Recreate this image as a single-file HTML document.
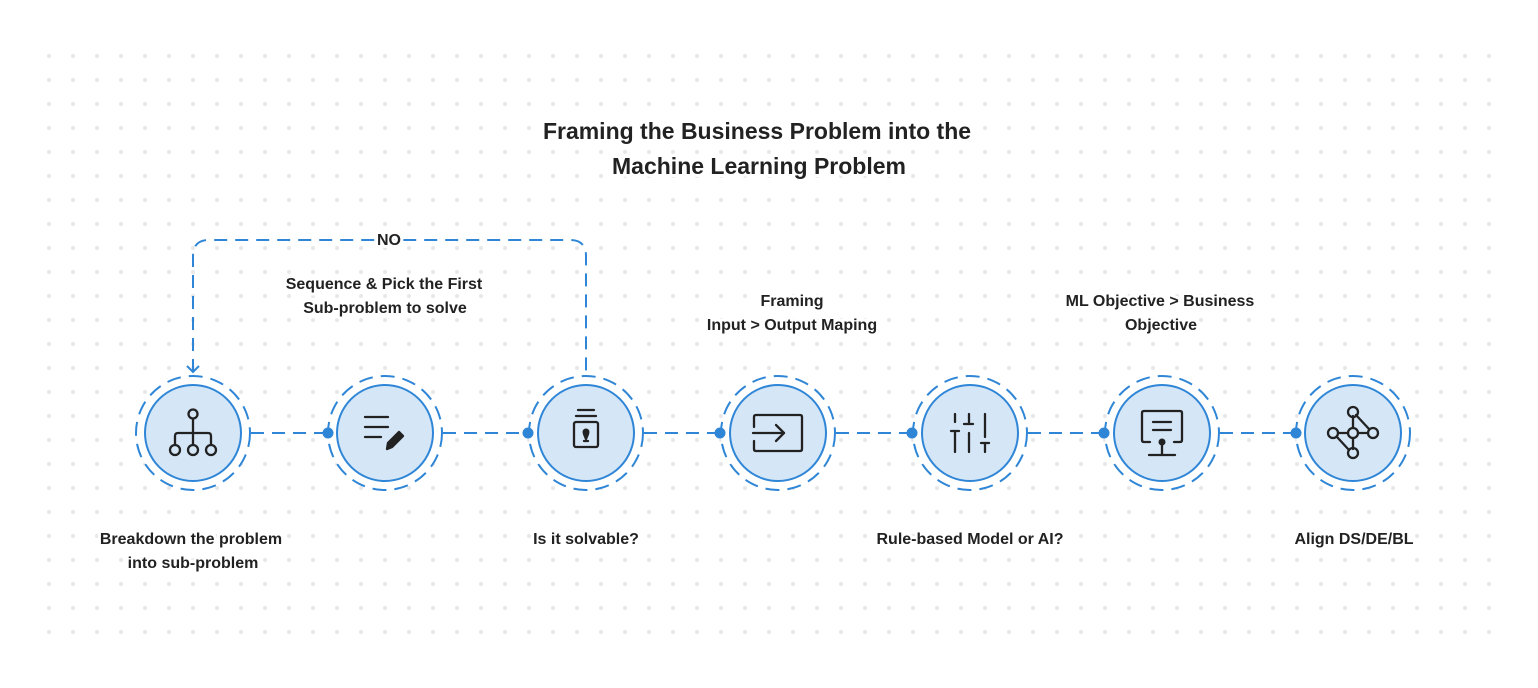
<!DOCTYPE html>
<html><head><meta charset="utf-8"><style>
html,body{margin:0;padding:0;background:#fff;}
svg{display:block;}
text{font-family:"Liberation Sans",sans-serif;font-weight:bold;fill:#222;text-anchor:middle;paint-order:stroke;stroke:#fff;stroke-width:6px;stroke-linejoin:round;}
</style></head><body>
<svg width="1538" height="688" viewBox="0 0 1538 688" xmlns="http://www.w3.org/2000/svg">
<defs>
<pattern id="dots" x="37" y="44" width="24" height="24" patternUnits="userSpaceOnUse">
<circle cx="12" cy="12" r="2" fill="#e8e8e8"/>
</pattern>
</defs>
<rect x="37" y="44" width="1464" height="600" fill="url(#dots)"/>

<text x="757" y="139" font-size="23">Framing the Business Problem into the</text>
<text x="759" y="174" font-size="23">Machine Learning Problem</text>

<g fill="none" stroke="#2f86d6" stroke-width="2">
<path d="M193 372 V256 Q193 240 209 240 H570 Q586 240 586 256 V376" stroke-dasharray="13 8"/>
<path d="M187 366 L193 372 L199 366"/>
<g stroke-dasharray="13 8">
<line x1="251" y1="433" x2="328" y2="433"/>
<line x1="443" y1="433" x2="528" y2="433"/>
<line x1="644" y1="433" x2="720" y2="433"/>
<line x1="836" y1="433" x2="912" y2="433"/>
<line x1="1028" y1="433" x2="1104" y2="433"/>
<line x1="1220" y1="433" x2="1296" y2="433"/>
</g>
</g>

<g id="nodes">
<g transform="translate(193,433)"><circle r="57" fill="#fff" stroke="#2f86d6" stroke-width="2" stroke-dasharray="14 8"/><circle r="48" fill="#d5e6f7" stroke="#2f86d6" stroke-width="2"/></g>
<g transform="translate(385,433)"><circle r="57" fill="#fff" stroke="#2f86d6" stroke-width="2" stroke-dasharray="14 8"/><circle r="48" fill="#d5e6f7" stroke="#2f86d6" stroke-width="2"/></g>
<g transform="translate(586,433)"><circle r="57" fill="#fff" stroke="#2f86d6" stroke-width="2" stroke-dasharray="14 8"/><circle r="48" fill="#d5e6f7" stroke="#2f86d6" stroke-width="2"/></g>
<g transform="translate(778,433)"><circle r="57" fill="#fff" stroke="#2f86d6" stroke-width="2" stroke-dasharray="14 8"/><circle r="48" fill="#d5e6f7" stroke="#2f86d6" stroke-width="2"/></g>
<g transform="translate(970,433)"><circle r="57" fill="#fff" stroke="#2f86d6" stroke-width="2" stroke-dasharray="14 8"/><circle r="48" fill="#d5e6f7" stroke="#2f86d6" stroke-width="2"/></g>
<g transform="translate(1162,433)"><circle r="57" fill="#fff" stroke="#2f86d6" stroke-width="2" stroke-dasharray="14 8"/><circle r="48" fill="#d5e6f7" stroke="#2f86d6" stroke-width="2"/></g>
<g transform="translate(1353,433)"><circle r="57" fill="#fff" stroke="#2f86d6" stroke-width="2" stroke-dasharray="14 8"/><circle r="48" fill="#d5e6f7" stroke="#2f86d6" stroke-width="2"/></g>
</g>
<g fill="#2f86d6">
<circle cx="328" cy="433" r="5.5"/><circle cx="528" cy="433" r="5.5"/><circle cx="720" cy="433" r="5.5"/>
<circle cx="912" cy="433" r="5.5"/><circle cx="1104" cy="433" r="5.5"/><circle cx="1296" cy="433" r="5.5"/>
</g>

<g fill="none" stroke="#222" stroke-width="2.3" stroke-linecap="round" stroke-linejoin="round">
<g transform="translate(193,433)">
<circle cx="0" cy="-19" r="4.5"/><line x1="0" y1="-14" x2="0" y2="12"/>
<path d="M-18 12 V3 Q-18 0 -15 0 H15 Q18 0 18 3 V12"/>
<circle cx="-18" cy="17" r="5"/><circle cx="0" cy="17" r="5"/><circle cx="18" cy="17" r="5"/>
</g>
<g transform="translate(385,433)">
<line x1="-20" y1="-16" x2="3" y2="-16"/><line x1="-20" y1="-6" x2="3" y2="-6"/><line x1="-20" y1="4" x2="-4" y2="4"/>
<path d="M2 16 L3 10 L14 -1 L18 3 L7 14 Z" fill="#222"/>
</g>
<g transform="translate(586,433)">
<line x1="-8" y1="-23" x2="8" y2="-23"/><line x1="-10" y1="-17" x2="10" y2="-17"/>
<rect x="-12" y="-11" width="24" height="25" rx="2"/>
<circle cx="0" cy="-1" r="3.5" fill="#222" stroke="none"/><path d="M-2 1 L0 6 L2 1Z" fill="#222"/><line x1="-2" y1="8" x2="2" y2="8"/>
</g>
<g transform="translate(778,433)">
<path d="M-24 -6 V-16 Q-24 -18 -22 -18 H22 Q24 -18 24 -16 V16 Q24 18 22 18 H-22 Q-24 18 -24 16 V8"/>
<line x1="-25" y1="0" x2="6" y2="0"/><path d="M-2 -8 L6 0 L-2 8"/>
</g>
<g transform="translate(970,433)">
<line x1="-15" y1="-19" x2="-15" y2="-11"/><line x1="-15" y1="-2" x2="-15" y2="19"/><line x1="-19" y1="-2" x2="-11" y2="-2"/>
<line x1="-1" y1="-19" x2="-1" y2="-9"/><line x1="-1" y1="0" x2="-1" y2="19"/><line x1="-6" y1="-9" x2="3" y2="-9"/>
<line x1="15" y1="-19" x2="15" y2="4"/><line x1="15" y1="10" x2="15" y2="19"/><line x1="11" y1="10" x2="19" y2="10"/>
</g>
<g transform="translate(1162,433)">
<path d="M-12 9 H-18 Q-20 9 -20 7 V-20 Q-20 -22 -18 -22 H18 Q20 -22 20 -20 V7 Q20 9 18 9 H12"/>
<line x1="-9" y1="-11" x2="9" y2="-11"/><line x1="-9" y1="-3" x2="9" y2="-3"/>
<circle cx="0" cy="9" r="3.5" fill="#222" stroke="none"/>
<line x1="0" y1="9" x2="0" y2="22"/><line x1="-13" y1="22" x2="13" y2="22"/>
</g>
<g transform="translate(1353,433)">
<line x1="0" y1="-17" x2="0" y2="-5"/><line x1="3" y1="-18" x2="16" y2="-4"/>
<line x1="-15" y1="0" x2="-5" y2="0"/><line x1="5" y1="0" x2="15" y2="0"/>
<line x1="-16" y1="4" x2="-4" y2="17"/><line x1="0" y1="5" x2="0" y2="16"/>
<circle cx="0" cy="-21" r="5"/><circle cx="0" cy="0" r="5"/><circle cx="-20" cy="0" r="5"/><circle cx="20" cy="0" r="5"/><circle cx="0" cy="20" r="5"/>
</g>
</g>

<g font-size="16">
<text x="389" y="245">NO</text>
<text x="384" y="289">Sequence &amp; Pick the First</text>
<text x="385" y="313">Sub-problem to solve</text>
<text x="792" y="306">Framing</text>
<text x="792" y="330">Input &gt; Output Maping</text>
<text x="1160" y="306">ML Objective &gt; Business</text>
<text x="1161" y="330">Objective</text>
<text x="191" y="544">Breakdown the problem</text>
<text x="193" y="568">into sub-problem</text>
<text x="586" y="544">Is it solvable?</text>
<text x="970" y="544">Rule-based Model or AI?</text>
<text x="1354" y="544">Align DS/DE/BL</text>
</g>
</svg>
</body></html>
